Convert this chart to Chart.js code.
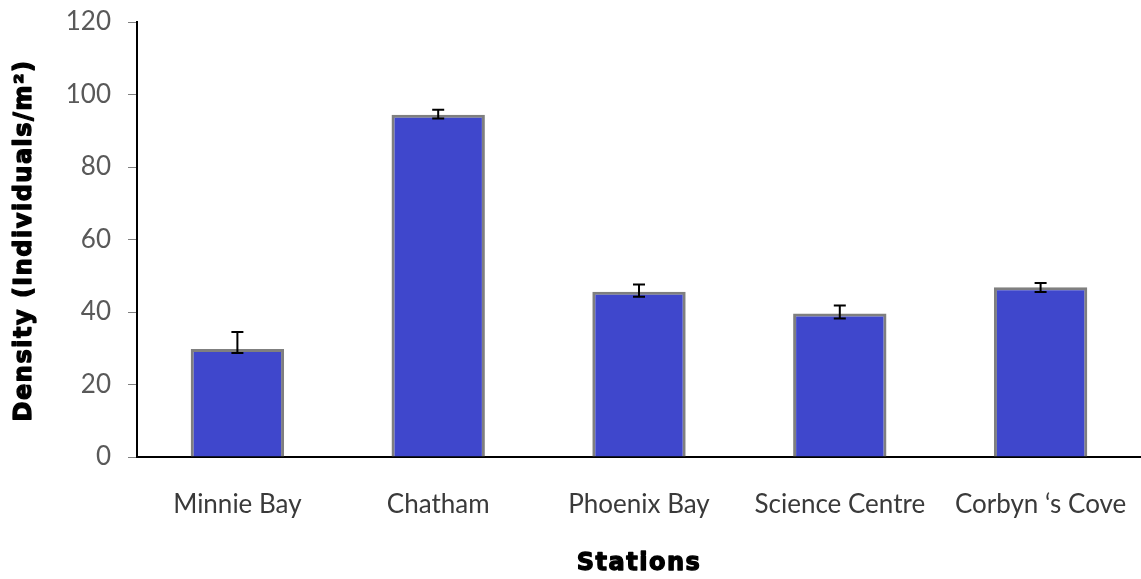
<!DOCTYPE html>
<html>
<head>
<meta charset="utf-8">
<script src="https://cdn.jsdelivr.net/npm/chart.js@4/dist/chart.umd.min.js"></script>
<style>
  html, body { margin: 0; padding: 0; background: #ffffff; }
  #wrap { width: 1141px; height: 579px; }
</style>
</head>
<body>
<div id="wrap"><canvas id="c" width="1141" height="579"></canvas></div>
<script>
// Mean density per station, with upper / lower error extents
const stations = ['Minnie Bay', 'Chatham', 'Phoenix Bay', 'Science Centre', 'Corbyn \u2018s Cove'];
const density = [29.8, 94.4, 45.6, 39.6, 46.8];
const errPlus = [4.7, 1.4, 2.0, 2.2, 1.2];
const errMinus = [1.1, 1.0, 1.4, 1.4, 1.3];
const yTicks = [0, 20, 40, 60, 80, 100, 120];
const xTitle = 'Stations';
const yTitle = 'Density (Individuals/m\u00b2)';

// Draws capped error bars on top of each bar
const errorBars = {
  id: 'errorBars',
  afterDatasetsDraw(chart) {
    const ctx = chart.ctx;
    const y = chart.scales.y;
    const meta = chart.getDatasetMeta(0);
    ctx.save();
    ctx.strokeStyle = '#000000';
    ctx.lineWidth = 2;
    meta.data.forEach((bar, i) => {
      const x = bar.x;
      const top = y.getPixelForValue(density[i] + errPlus[i]);
      const bot = y.getPixelForValue(density[i] - errMinus[i]);
      const cap = 6;
      ctx.beginPath();
      ctx.moveTo(x, top); ctx.lineTo(x, bot);
      ctx.moveTo(x - cap, top); ctx.lineTo(x + cap, top);
      ctx.moveTo(x - cap, bot); ctx.lineTo(x + cap, bot);
      ctx.stroke();
    });
    ctx.restore();
  }
};

// Heavy, slightly spaced axis titles
const axisTitles = {
  id: 'axisTitles',
  afterDraw(chart) {
    const ctx = chart.ctx;
    const area = chart.chartArea;
    ctx.save();
    ctx.font = "bold 24px 'DejaVu Sans', sans-serif";
    ctx.letterSpacing = '1.5px';
    ctx.fillStyle = '#000000';
    ctx.strokeStyle = '#000000';
    ctx.lineWidth = 1.3;
    ctx.lineJoin = 'round';
    ctx.textAlign = 'center';
    ctx.textBaseline = 'middle';
    const cx = (area.left + area.right) / 2;
    ctx.fillText(xTitle, cx, 564);
    ctx.strokeText(xTitle, cx, 564);
    ctx.translate(25, (area.top + area.bottom) / 2 + 1);
    ctx.rotate(-Math.PI / 2);
    ctx.fillText(yTitle, 0, 0);
    ctx.strokeText(yTitle, 0, 0);
    ctx.restore();
  }
};

// Fixed axis box sizes; label overhang should not shrink the plot area
function fixBox(size, prop) {
  return function (scale) {
    scale[prop] = size;
    scale.paddingTop = 0;
    scale.paddingBottom = 0;
    scale.paddingLeft = 0;
    scale.paddingRight = 0;
  };
}

new Chart(document.getElementById('c'), {
  type: 'bar',
  data: {
    labels: stations,
    datasets: [{
      data: density,
      backgroundColor: '#3f47cc',
      borderColor: '#7f7f7f',
      borderWidth: 3,
      borderSkipped: 'bottom',
      barPercentage: 1,
      categoryPercentage: 0.465
    }]
  },
  options: {
    responsive: false,
    animation: false,
    layout: { padding: { top: 22, right: 0, left: 0, bottom: 0 } },
    plugins: { legend: { display: false }, tooltip: { enabled: false } },
    scales: {
      x: {
        grid: { display: false, drawTicks: false },
        border: { color: '#000000', width: 2 },
        ticks: {
          color: '#3a3a3a',
          font: { family: 'Lato', size: 26 },
          padding: 32,
          maxRotation: 0,
          autoSkip: false
        },
        afterFit: fixBox(122, 'height')
      },
      y: {
        min: 0,
        max: 120,
        afterBuildTicks(scale) { scale.ticks = yTicks.map(v => ({ value: v })); },
        grid: { drawOnChartArea: false, color: '#808080', tickLength: 9, lineWidth: 1 },
        border: { color: '#000000', width: 2 },
        ticks: {
          color: '#595959',
          font: { family: 'Lato', size: 26 },
          padding: 17
        },
        afterFit: fixBox(137, 'width')
      }
    }
  },
  plugins: [errorBars, axisTitles]
});
</script>
</body>
</html>
